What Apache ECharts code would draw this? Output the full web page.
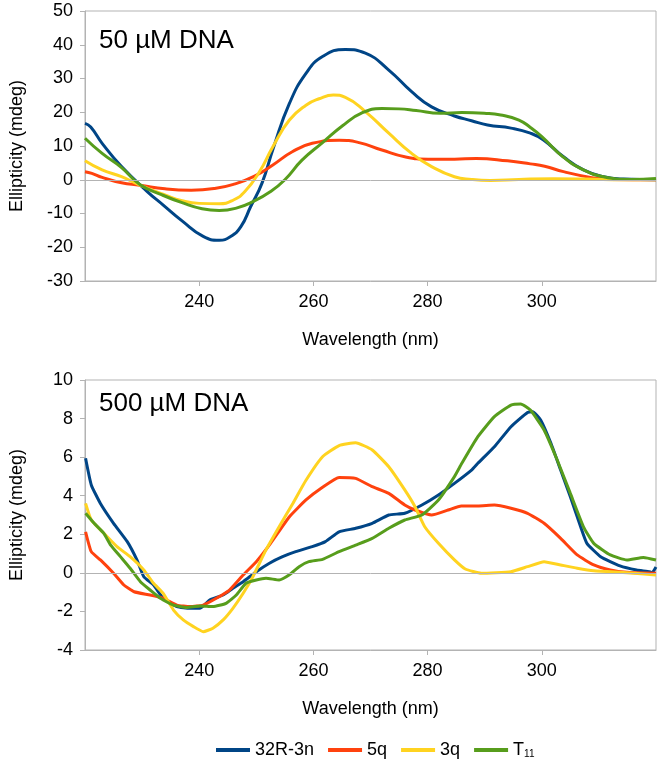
<!DOCTYPE html>
<html>
<head>
<meta charset="utf-8">
<script src="https://cdn.jsdelivr.net/npm/echarts@6/dist/echarts.min.js"></script>
<style>
html,body{margin:0;padding:0;background:#fff;}
#chart{width:661px;height:761px;}
</style>
</head>
<body>
<div id="chart"></div>
<script>
// ---- Data ----
var seriesNames = ['32R-3n', '5q', '3q', 'T11'];
var seriesColors = ['#004586', '#ff420e', '#ffd320', '#579d1c'];
var panelTitles = ['50 µM DNA', '500 µM DNA'];
var xTicks = [220, 240, 260, 280, 300, 320];

// Top panel (50 µM DNA): [wavelength nm, ellipticity mdeg]
var top32R = [[220,16.7],[221,15.6],[223,10.8],[226.4,3.9],[230.9,-3.5],[233.7,-7.5],[237,-12.2],[240.7,-16.8],[243.5,-17.9],[245.5,-16.8],[247.3,-13.9],[249,-8],[251,-1],[253,9.5],[255.8,22.6],[258.7,31.5],[261.6,36.5],[265.6,38.6],[269.1,37.5],[273.2,32.5],[277.2,26.1],[280.7,21.6],[284.7,18.9],[287.7,17.5],[290.5,16.2],[294.6,15.3],[298,13.8],[300.3,11.8],[303.8,6.8],[307.3,2.9],[310.8,0.9],[314.3,0.2],[320,0]];
var top5q = [[220,2.4],[221.2,1.9],[223,0.7],[226.4,-0.9],[229.6,-1.6],[234,-2.7],[238.6,-3.1],[242.7,-2.6],[246.1,-1.3],[249.6,1.0],[252.9,4.4],[256.3,8.3],[259.8,10.8],[264.5,11.7],[268,11],[272,8.8],[276,6.8],[280.1,6.1],[284.7,6.1],[288.5,6.3],[294,5.6],[298,4.7],[300.5,4],[303.8,2.4],[308.5,0.7],[312,0.1],[320,0]];
var top3q = [[220,5.6],[223,2.9],[226.4,0.9],[229.6,-1.6],[234,-4.5],[237,-6.2],[240,-7],[243.5,-7.1],[246,-6],[248,-3.5],[250.5,2.2],[252.9,9.8],[255.8,17.7],[258.7,22.1],[261,24],[263.5,25.1],[265.6,24.4],[269.1,20.2],[273.2,13.8],[277.2,7.8],[280.7,3.9],[284.7,0.9],[287.7,0.1],[291,-0.2],[296,0.1],[302,0.3],[308,0.2],[314,0],[320,0]];
var topT11 = [[220,12.3],[223,7.8],[226.4,3.6],[229.6,-1.4],[233.5,-4.5],[237,-6.8],[240.5,-8.6],[243.5,-9.1],[246.5,-8.4],[249.5,-6.4],[252.5,-3.5],[255,0],[258,5.8],[261.6,11],[265.1,16],[268.5,19.8],[272,21.1],[275,21],[278,20.5],[282.2,19.7],[286,19.9],[289.9,19.7],[292.8,19.2],[296,17.7],[298,15.5],[300,12.8],[303.7,6.8],[307.3,2.9],[310.8,0.9],[315.5,0.1],[320,0.4]];

// Bottom panel (500 µM DNA)
var bot32R = [[220.1,5.94],[221.1,4.56],[222.7,3.6],[225,2.57],[227.4,1.62],[229.1,0.67],[230.3,-0.2],[232,-0.63],[233.7,-1.32],[236.1,-1.75],[238.4,-1.84],[240.1,-1.84],[241.9,-1.4],[244.2,-1.15],[245.9,-0.8],[247.7,-0.46],[250,0.06],[252.3,0.5],[254.6,0.84],[256.9,1.1],[259.8,1.36],[262.1,1.62],[264.5,2.13],[267.4,2.31],[270.3,2.57],[273.2,3.0],[276,3.09],[279,3.52],[281.9,4.04],[284.7,4.64],[287.7,5.33],[288.8,5.68],[291.7,6.54],[294.6,7.58],[297.5,8.32],[298.4,8.36],[299.8,7.93],[301.6,6.72],[303.3,5.33],[305,3.95],[306.8,2.39],[307.9,1.53],[310.3,0.84],[313.7,0.36],[316.6,0.15],[318.9,0.06],[319.3,0.0],[320,0.3]];
var bot5q = [[220.1,2.13],[221.1,1.1],[222.7,0.67],[225,-0.02],[226.8,-0.63],[228.6,-0.98],[231.4,-1.15],[233.7,-1.32],[236.1,-1.67],[238.4,-1.75],[240.7,-1.67],[243,-1.32],[245.3,-0.89],[247.7,-0.11],[250,0.58],[252.5,1.53],[255.8,2.91],[258.7,3.78],[261.6,4.44],[264.5,4.95],[267.4,4.9],[270.3,4.47],[273.2,4.12],[276,3.52],[277.8,3.26],[280.7,3.0],[283.6,3.26],[285.9,3.47],[288.8,3.47],[291.7,3.52],[294.6,3.35],[297.5,3.09],[300.4,2.57],[303.3,1.79],[306.2,0.93],[309.1,0.41],[312,0.15],[314.9,0.03],[320,-0.02]];
var bot3q = [[220.1,3.6],[221.1,2.74],[223.3,2.05],[225.6,1.36],[227.9,0.84],[230.3,0.15],[232,-0.54],[233.7,-1.06],[235.5,-1.93],[237.2,-2.44],[239,-2.79],[240.7,-3.05],[242.4,-2.87],[244.2,-2.44],[245.9,-1.84],[247.7,-1.06],[249.4,-0.2],[251.7,1.19],[254,2.39],[256.4,3.6],[258.7,4.8],[261.6,6.02],[264.5,6.6],[267.4,6.75],[270.3,6.37],[273.2,5.5],[276,4.3],[277.8,3.43],[279.5,2.39],[281.9,1.53],[284.7,0.67],[286.6,0.2],[289.4,-0.02],[294.6,0.06],[297.5,0.32],[300.4,0.58],[303.3,0.41],[306.2,0.24],[309.1,0.11],[314.9,0.01],[320,-0.11]];
var botT11 = [[220.1,3.09],[221.6,2.57],[223.3,2.05],[224.5,1.44],[226.2,0.84],[227.9,0.24],[229.7,-0.46],[231.4,-0.89],[233.2,-1.32],[235.5,-1.67],[237.8,-1.79],[240.1,-1.72],[242.4,-1.75],[244.7,-1.58],[246.5,-1.15],[248.2,-0.54],[250,-0.37],[251.7,-0.28],[254,-0.37],[255.8,-0.1],[257.5,0.32],[259.2,0.58],[261.6,0.7],[264.5,1.1],[267.4,1.44],[270.3,1.79],[273.2,2.31],[276,2.74],[279,3.0],[281.9,3.78],[284.7,4.99],[286,5.68],[288.8,7.06],[291.7,8.1],[294.6,8.7],[296.3,8.76],[298,8.44],[300.4,7.41],[302.7,5.85],[305,4.12],[307.3,2.39],[309.1,1.53],[312,0.93],[314.9,0.67],[317.8,0.8],[320,0.67]];

var topData = [top32R, top5q, top3q, topT11];
var botData = [bot32R, bot5q, bot3q, botT11];

// ---- Chart ----
var FONT = "'Liberation Sans', Arial, sans-serif";
var AXIS_COLOR = '#b3b3b3';
var chart = echarts.init(document.getElementById('chart'), null, {renderer: 'canvas'});

function makeX(gridIndex) {
  return {
    type: 'value', gridIndex: gridIndex,
    min: xTicks[0], max: xTicks[xTicks.length - 1], interval: 20,
    name: 'Wavelength (nm)', nameLocation: 'middle', nameGap: 50,
    nameTextStyle: {fontFamily: FONT, fontSize: 18, color: '#000'},
    axisLine: {show: true, onZero: false, lineStyle: {color: AXIS_COLOR, width: 1}},
    axisTick: {show: true, length: 5, lineStyle: {color: AXIS_COLOR}},
    axisLabel: {fontFamily: FONT, fontSize: 18, color: '#000', margin: 12, showMinLabel: false, showMaxLabel: false},
    splitLine: {show: false}
  };
}
function makeY(gridIndex, min, max, interval) {
  return {
    type: 'value', gridIndex: gridIndex, min: min, max: max, interval: interval,
    name: 'Ellipticity (mdeg)', nameLocation: 'middle', nameGap: 59, nameRotate: 90,
    nameTextStyle: {fontFamily: FONT, fontSize: 18, color: '#000'},
    axisLine: {show: true, lineStyle: {color: AXIS_COLOR, width: 1}},
    axisTick: {show: true, length: 5, lineStyle: {color: AXIS_COLOR}},
    axisLabel: {fontFamily: FONT, fontSize: 18, color: '#000', margin: 12},
    splitLine: {show: false}
  };
}

var series = [];
[topData, botData].forEach(function (panel, p) {
  // zero reference line
  series.push({
    type: 'line', name: 'zero' + p, xAxisIndex: p, yAxisIndex: p, data: [], z: 1, silent: true,
    markLine: {silent: true, symbol: 'none', label: {show: false},
      lineStyle: {color: AXIS_COLOR, type: 'solid', width: 1}, data: [{yAxis: 0}]}
  });
  panel.forEach(function (d, i) {
    series.push({
      type: 'line', name: seriesNames[i], xAxisIndex: p, yAxisIndex: p,
      data: d, symbol: 'none', smooth: p === 0 ? 0.5 : 0.15,
      lineStyle: {color: seriesColors[i], width: 3},
      itemStyle: {color: seriesColors[i]},
      z: 3
    });
  });
});

var option = {
  animation: false,
  backgroundColor: '#fff',
  grid: [
    {left: 81, right: 5, top: 11, height: 270, show: true, borderColor: AXIS_COLOR, borderWidth: 1, backgroundColor: 'transparent'},
    {left: 81, right: 5, top: 380, height: 270, show: true, borderColor: AXIS_COLOR, borderWidth: 1, backgroundColor: 'transparent'}
  ],
  xAxis: [makeX(0), makeX(1)],
  yAxis: [makeY(0, -30, 50, 10), makeY(1, -4, 10, 2)],
  legend: {
    data: seriesNames, left: 211, top: 736, itemWidth: 34, itemHeight: 4, itemGap: 14,
    icon: 'rect',
    textStyle: {fontFamily: FONT, fontSize: 18, color: '#000',
      rich: {t: {fontFamily: FONT, fontSize: 18, color: '#000'}, s: {fontFamily: FONT, fontSize: 10, color: '#000', verticalAlign: 'bottom', padding: [8, 0, 0, 0]}}},
    formatter: function (name) { return name === 'T11' ? '{t|T}{s|11}' : name; }
  },
  graphic: [
    {type: 'text', left: 99, top: 28, style: {text: panelTitles[0], fontFamily: FONT, fontSize: 26, fill: '#000'}},
    {type: 'text', left: 99, top: 391, style: {text: panelTitles[1], fontFamily: FONT, fontSize: 26, fill: '#000'}}
  ],
  series: series
};
chart.setOption(option);
</script>
</body>
</html>
